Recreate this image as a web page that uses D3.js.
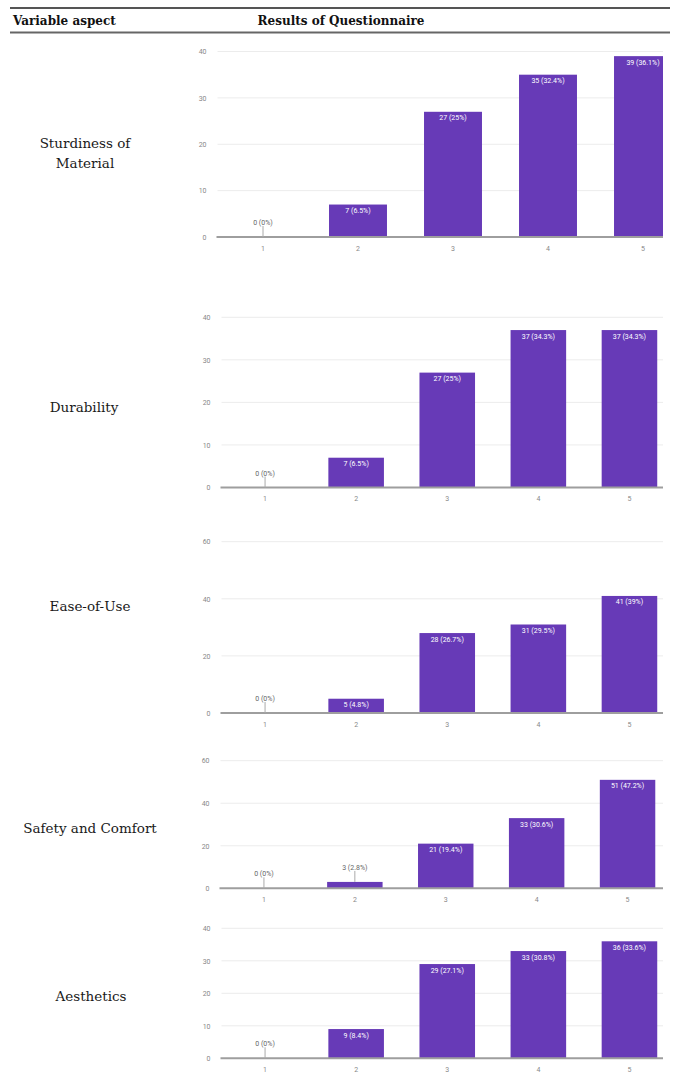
<!DOCTYPE html>
<html>
<head>
<meta charset="utf-8">
<script src="https://cdn.jsdelivr.net/npm/d3@7"></script>
<style>
  html, body { margin: 0; padding: 0; background: #fff; }
  svg { display: block; }
</style>
</head>
<body>
<script>
// Questionnaire answers per aspect: number of respondents giving each rating 1..5
const aspects = ["Sturdiness of Material", "Durability", "Ease-of-Use", "Safety and Comfort", "Aesthetics"];
const ratings = ["1", "2", "3", "4", "5"];
const sturdiness = [0, 7, 27, 35, 39];
const durability = [0, 7, 27, 37, 37];
const easeOfUse = [0, 5, 28, 31, 41];
const safetyComfort = [0, 3, 21, 33, 51];
const aesthetics = [0, 9, 29, 33, 36];
const ticksTo40 = [0, 10, 20, 30, 40];
const ticksTo60 = [0, 20, 40, 60];

const W = 678, H = 1073;
const svg = d3.select("body").append("svg").attr("width", W).attr("height", H);

// Table header
const serif = "'DejaVu Serif', 'Liberation Serif', serif";
const sans = "Roboto, 'Liberation Sans', Arial, sans-serif";
svg.append("line").attr("x1", 10).attr("x2", 670).attr("y1", 8).attr("y2", 8)
  .attr("stroke", "#555").attr("stroke-width", 2);
svg.append("line").attr("x1", 10).attr("x2", 670).attr("y1", 32.5).attr("y2", 32.5)
  .attr("stroke", "#666").attr("stroke-width", 2);
svg.append("text").attr("x", 13).attr("y", 25)
  .attr("font-family", serif).attr("font-weight", "bold").attr("font-size", 12)
  .attr("fill", "#111").text("Variable aspect");
svg.append("text").attr("x", 341).attr("y", 25).attr("text-anchor", "middle")
  .attr("font-family", serif).attr("font-weight", "bold").attr("font-size", 12)
  .attr("fill", "#111").text("Results of Questionnaire");

// Clip the chart column at the right edge of the table
svg.append("defs").append("clipPath").attr("id", "col")
  .append("rect").attr("x", 0).attr("y", 0).attr("width", 663).attr("height", H);

const panels = [
  { name: aspects[0], lines: ["Sturdiness of", "Material"], values: sturdiness, ticks: ticksTo40,
    top: 51.5, base: 237, x0: 215.5, x1: 690.5, labelX: 85, labelY: 154 },
  { name: aspects[1], lines: ["Durability"], values: durability, ticks: ticksTo40,
    top: 317.3, base: 487.5, x0: 219.5, x1: 675, labelX: 84, labelY: 408 },
  { name: aspects[2], lines: ["Ease-of-Use"], values: easeOfUse, ticks: ticksTo60,
    top: 541.7, base: 713, x0: 219.5, x1: 675, labelX: 90, labelY: 607 },
  { name: aspects[3], lines: ["Safety and Comfort"], values: safetyComfort, ticks: ticksTo60,
    top: 760.7, base: 888.3, x0: 218.5, x1: 673, labelX: 90, labelY: 829 },
  { name: aspects[4], lines: ["Aesthetics"], values: aesthetics, ticks: ticksTo40,
    top: 928.3, base: 1058.3, x0: 219.5, x1: 675, labelX: 91, labelY: 997 }
];

const pctFmt = d3.format(".1~f");

panels.forEach(p => {
  // Aspect name in the left column
  const lab = svg.append("text").attr("text-anchor", "middle")
    .attr("font-family", serif).attr("font-size", 13.5).attr("fill", "#1a1a1a");
  p.lines.forEach((ln, i) => {
    lab.append("tspan").attr("x", p.labelX)
      .attr("y", p.labelY - (p.lines.length - 1) * 10 + i * 20 + 4).text(ln);
  });

  const total = d3.sum(p.values);
  const x = d3.scaleBand().domain(ratings).range([p.x0, p.x1])
    .paddingInner(0.39).paddingOuter(0.195);
  const y = d3.scaleLinear().domain([0, d3.max(p.ticks)]).range([p.base, p.top]);

  const g = svg.append("g");
  const plot = g.append("g").attr("clip-path", "url(#col)");

  // Horizontal gridlines
  plot.selectAll("line.grid").data(p.ticks.filter(t => t > 0)).join("line")
    .attr("x1", p.x0 + 2).attr("x2", 663)
    .attr("y1", d => y(d)).attr("y2", d => y(d))
    .attr("stroke", "#ececec").attr("stroke-width", 1);

  // Value axis labels
  const yAxis = d3.axisLeft(y).tickValues(p.ticks).tickSize(0).tickPadding(0);
  const ya = g.append("g").attr("transform", `translate(${p.x0 - 9},0)`).call(yAxis);
  ya.select(".domain").remove();
  ya.selectAll("text").attr("font-family", sans).attr("font-size", 7).attr("fill", "#888");

  const data = ratings.map((r, i) => ({ r, v: p.values[i] }));

  // Bars
  plot.selectAll("rect.bar").data(data).join("rect")
    .attr("x", d => x(d.r)).attr("width", x.bandwidth())
    .attr("y", d => y(d.v)).attr("height", d => y(0) - y(d.v))
    .attr("fill", "#673ab7");

  // Baseline
  plot.append("line").attr("x1", p.x0 + 1).attr("x2", 663)
    .attr("y1", y(0)).attr("y2", y(0))
    .attr("stroke", "#9e9e9e").attr("stroke-width", 2);

  // Category axis labels
  const xAxis = d3.axisBottom(x).tickSize(0).tickPadding(9);
  const xa = g.append("g").attr("transform", `translate(0,${y(0)})`).call(xAxis);
  xa.select(".domain").remove();
  xa.selectAll("text").attr("font-family", sans).attr("font-size", 7).attr("fill", "#888");

  // Value annotations: inside tall bars, above short ones with a stem
  data.forEach(d => {
    const cx = x(d.r) + x.bandwidth() / 2;
    const h = y(0) - y(d.v);
    const txt = `${d.v} (${pctFmt(d.v / total * 100)}%)`;
    if (h >= 12) {
      plot.append("text").attr("x", cx).attr("y", y(d.v) + 8.5)
        .attr("text-anchor", "middle").attr("font-family", sans).attr("font-size", 7)
        .attr("fill", "#fff").text(txt);
    } else {
      const ly = y(d.v) - 14;
      plot.append("line").attr("x1", cx).attr("x2", cx)
        .attr("y1", ly + 3).attr("y2", y(d.v))
        .attr("stroke", "#aaa").attr("stroke-width", 1);
      plot.append("text").attr("x", cx).attr("y", ly + 2)
        .attr("text-anchor", "middle").attr("font-family", sans).attr("font-size", 7)
        .attr("fill", "#666").text(txt);
    }
  });
});
</script>
</body>
</html>
